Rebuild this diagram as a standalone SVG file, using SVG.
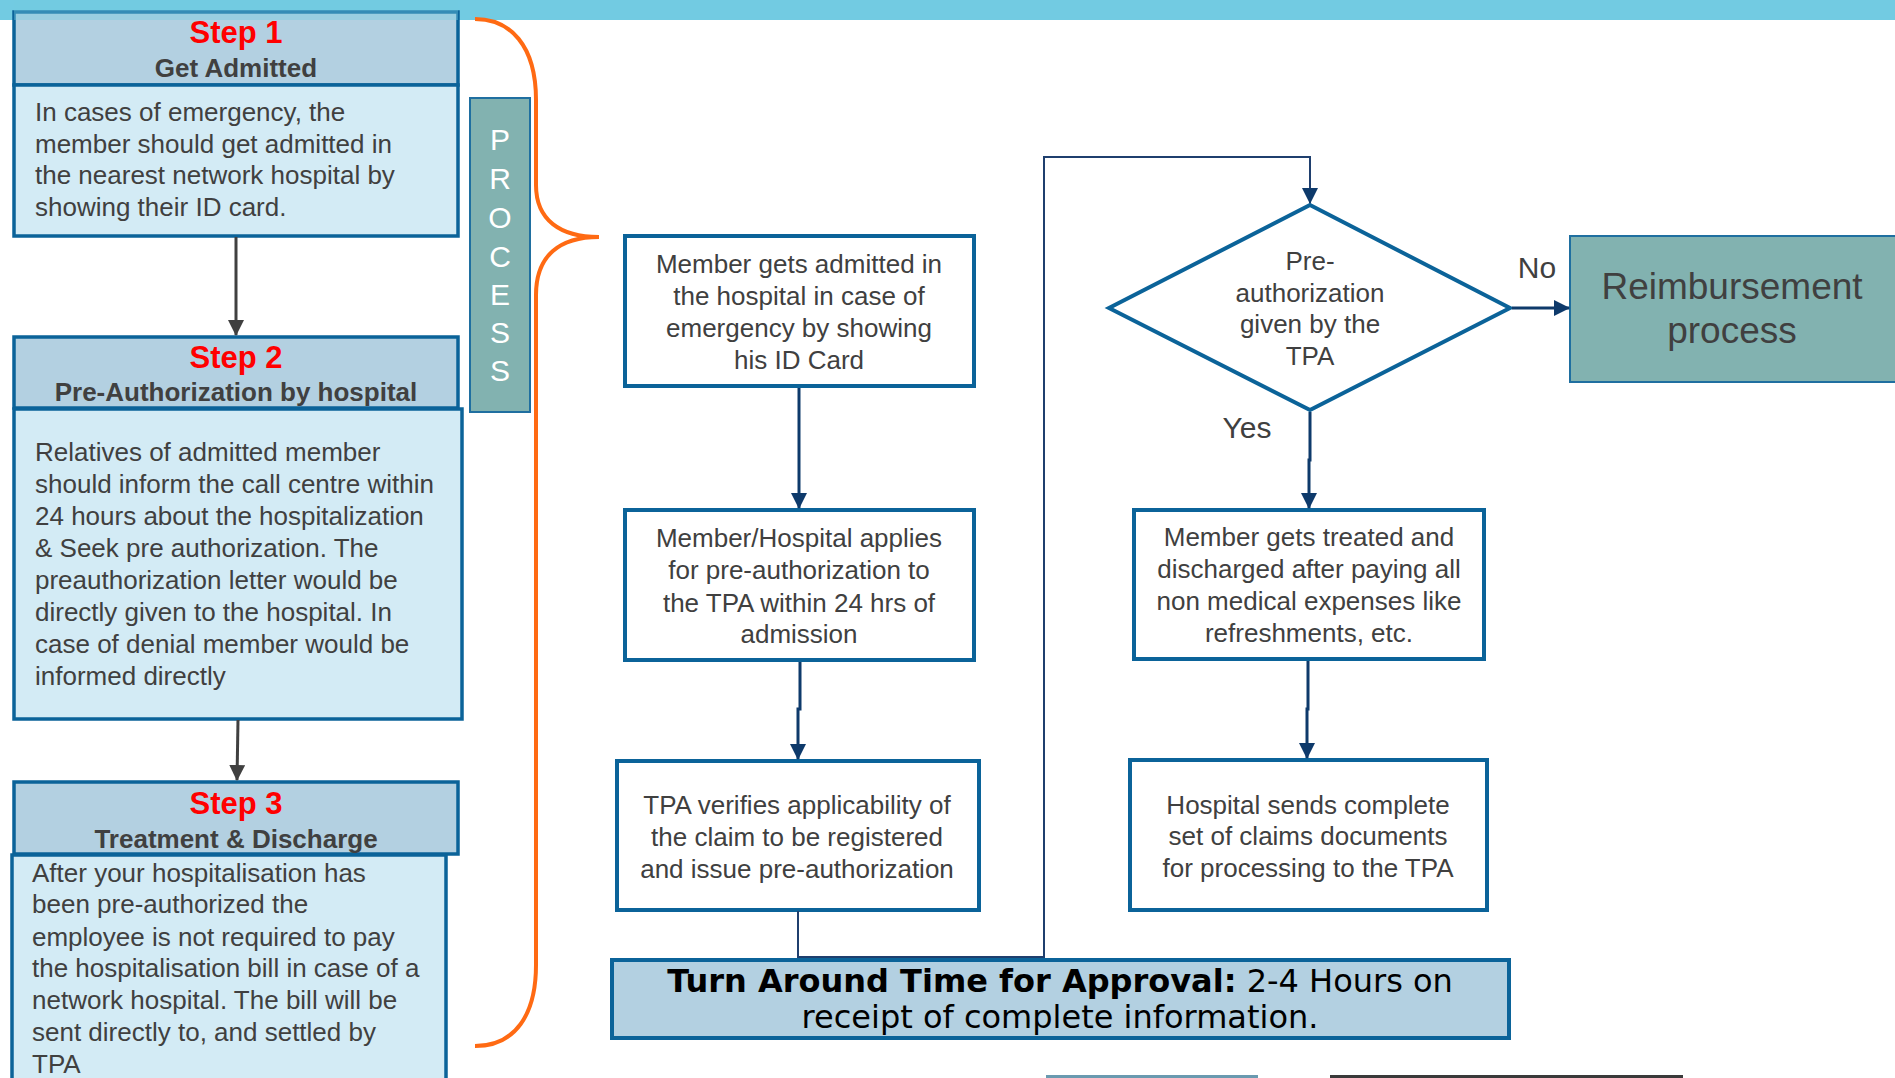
<svg xmlns="http://www.w3.org/2000/svg" width="1895" height="1078" viewBox="0 0 1895 1078">
<style>
.hdr{fill:#B3D0E1;stroke:#0B6399;stroke-width:3.5}
.body{fill:#D3EBF5;stroke:#0B6399;stroke-width:3.5}
.box{fill:#FFFFFF;stroke:#0B6399;stroke-width:4}
.teal{fill:#82B2B0;stroke:#1F6FA0;stroke-width:2}
.t{font-family:"Liberation Sans",Arial,sans-serif;font-size:26px;fill:#404040}
.c{text-anchor:middle}
.step{font-family:"Liberation Sans",Arial,sans-serif;font-size:31px;font-weight:bold;fill:#FF0000;text-anchor:middle}
.sub{font-family:"Liberation Sans",Arial,sans-serif;font-size:26px;font-weight:bold;fill:#404040;text-anchor:middle}
.proc{font-family:"Liberation Sans",Arial,sans-serif;font-size:30px;fill:#FFFFFF;text-anchor:middle}
.nav{fill:none;stroke:#0E3A6B;stroke-width:3}
.navt{fill:none;stroke:#1F3F6E;stroke-width:2}
.gry{fill:none;stroke:#404040;stroke-width:3}
.tat{font-family:"DejaVu Sans",Verdana,sans-serif;font-size:32px;fill:#000000;text-anchor:middle}
</style>
<defs>
<marker id="an" markerWidth="16" markerHeight="16" viewBox="0 0 16 16" refX="15" refY="8" orient="auto" markerUnits="userSpaceOnUse">
<path d="M0,0 L16,8 L0,16 Z" fill="#0E3A6B"/>
</marker>
<marker id="ag" markerWidth="16" markerHeight="16" viewBox="0 0 16 16" refX="15" refY="8" orient="auto" markerUnits="userSpaceOnUse">
<path d="M0,0 L16,8 L0,16 Z" fill="#404040"/>
</marker>
</defs>
<rect x="0" y="0" width="1895" height="20" fill="#72CBE2"/>

<g id="step1">
<rect class="hdr" x="14" y="12" width="444" height="73"/>
<rect x="14" y="0" width="444" height="20" fill="#72CBE2" opacity="0.4"/>
<text class="step" x="236" y="43">Step 1</text>
<text class="sub" x="236" y="77">Get Admitted</text>
<rect class="body" x="14" y="85" width="444" height="151"/>
<text class="t" x="35" y="121">In cases of emergency, the</text>
<text class="t" x="35" y="153">member should get admitted in</text>
<text class="t" x="35" y="184">the nearest network hospital by</text>
<text class="t" x="35" y="216">showing their ID card.</text>
</g>

<g id="step2">
<rect class="hdr" x="14" y="337" width="444" height="71"/>
<text class="step" x="236" y="368">Step 2</text>
<text class="sub" x="236" y="401">Pre-Authorization by hospital</text>
<rect class="body" x="14" y="409" width="448" height="310"/>
<text class="t" x="35" y="461">Relatives of admitted member</text>
<text class="t" x="35" y="493">should inform the call centre within</text>
<text class="t" x="35" y="525">24 hours about the hospitalization</text>
<text class="t" x="35" y="557">&amp; Seek pre authorization. The</text>
<text class="t" x="35" y="589">preauthorization letter would be</text>
<text class="t" x="35" y="621">directly given to the hospital. In</text>
<text class="t" x="35" y="653">case of denial member would be</text>
<text class="t" x="35" y="685">informed directly</text>
</g>

<g id="step3">
<rect class="hdr" x="14" y="782" width="444" height="72"/>
<text class="step" x="236" y="814">Step 3</text>
<text class="sub" x="236" y="848">Treatment &amp; Discharge</text>
<rect class="body" x="12" y="855" width="434" height="240"/>
<text class="t" x="32" y="882">After your hospitalisation has</text>
<text class="t" x="32" y="913">been pre-authorized the</text>
<text class="t" x="32" y="946">employee is not required to pay</text>
<text class="t" x="32" y="977">the hospitalisation bill in case of a</text>
<text class="t" x="32" y="1009">network hospital. The bill will be</text>
<text class="t" x="32" y="1041">sent directly to, and settled by</text>
<text class="t" x="32" y="1073">TPA</text>
</g>

<g id="process">
<rect class="teal" x="470" y="98" width="60" height="314"/>
<text class="proc" x="500" y="150">P</text>
<text class="proc" x="500" y="189">R</text>
<text class="proc" x="500" y="228">O</text>
<text class="proc" x="500" y="267">C</text>
<text class="proc" x="500" y="305">E</text>
<text class="proc" x="500" y="343">S</text>
<text class="proc" x="500" y="381">S</text>
</g>

<g id="brace">
<path d="M475,19 C510,19 536,45 536,100 L536,185 C536,220 560,237 599,237 C560,237 536,255 536,295 L536,965 C536,1015 515,1046 475,1046" fill="none" stroke="#FF6A13" stroke-width="4"/>
</g>

<g id="boxA">
<rect class="box" x="625" y="236" width="349" height="150"/>
<text class="t c" x="799" y="273">Member gets admitted in</text>
<text class="t c" x="799" y="305">the hospital in case of</text>
<text class="t c" x="799" y="337">emergency by showing</text>
<text class="t c" x="799" y="369">his ID Card</text>
</g>

<g id="boxB">
<rect class="box" x="625" y="510" width="349" height="150"/>
<text class="t c" x="799" y="547">Member/Hospital applies</text>
<text class="t c" x="799" y="579">for pre-authorization to</text>
<text class="t c" x="799" y="612">the TPA within 24 hrs of</text>
<text class="t c" x="799" y="643">admission</text>
</g>

<g id="boxC">
<rect class="box" x="617" y="761" width="362" height="149"/>
<text class="t c" x="797" y="814">TPA verifies applicability of</text>
<text class="t c" x="797" y="846">the claim to be registered</text>
<text class="t c" x="797" y="878">and issue pre-authorization</text>
</g>

<g id="decision">
<polygon points="1310,205 1510,308 1310,410 1109,308" fill="#FFFFFF" stroke="#0B6399" stroke-width="4"/>
<text class="t c" x="1310" y="270">Pre-</text>
<text class="t c" x="1310" y="302">authorization</text>
<text class="t c" x="1310" y="333">given by the</text>
<text class="t c" x="1310" y="365">TPA</text>
</g>

<g id="reimb">
<rect class="teal" x="1570" y="236" width="340" height="146"/>
<text class="t c" x="1732" y="299" style="font-size:37px">Reimbursement</text>
<text class="t c" x="1732" y="343" style="font-size:37px">process</text>
</g>

<g id="boxD">
<rect class="box" x="1134" y="510" width="350" height="149"/>
<text class="t c" x="1309" y="546">Member gets treated and</text>
<text class="t c" x="1309" y="578">discharged after paying all</text>
<text class="t c" x="1309" y="610">non medical expenses like</text>
<text class="t c" x="1309" y="642">refreshments, etc.</text>
</g>

<g id="boxE">
<rect class="box" x="1130" y="760" width="357" height="150"/>
<text class="t c" x="1308" y="814">Hospital sends complete</text>
<text class="t c" x="1308" y="845">set of claims documents</text>
<text class="t c" x="1308" y="877">for processing to the TPA</text>
</g>

<g id="tat">
<rect x="612" y="960" width="897" height="78" fill="#B3D0E1" stroke="#0B6399" stroke-width="4"/>
<text class="tat" x="1060" y="992"><tspan font-weight="bold">Turn Around Time for Approval:</tspan> 2-4 Hours on</text>
<text class="tat" x="1060" y="1028">receipt of complete information.</text>
</g>

<g id="connectors">
<line class="gry" x1="236" y1="237" x2="236" y2="335" marker-end="url(#ag)"/>
<line class="gry" x1="238" y1="720" x2="237" y2="780" marker-end="url(#ag)"/>
<line class="nav" x1="799" y1="388" x2="799" y2="508" marker-end="url(#an)"/>
<path class="nav" d="M800,662 L800,709 L798,709 L798,759" marker-end="url(#an)"/>
<path class="navt" d="M798,911 L798,957 L1044,957 L1044,157 L1310,157 L1310,203" marker-end="url(#an)"/>
<line class="nav" x1="1512" y1="308" x2="1569" y2="308" marker-end="url(#an)"/>
<path class="nav" d="M1310,412 L1310,460 L1309,460 L1309,508" marker-end="url(#an)"/>
<path class="nav" d="M1308,661 L1308,709 L1307,709 L1307,758" marker-end="url(#an)"/>
<text class="t c" x="1537" y="278" style="font-size:30px">No</text>
<text class="t c" x="1247" y="438" style="font-size:30px">Yes</text>
</g>

<rect x="1046" y="1075" width="212" height="3" fill="#6A9AB0"/>
<rect x="1330" y="1075" width="353" height="3" fill="#3A3A3A"/>
</svg>
